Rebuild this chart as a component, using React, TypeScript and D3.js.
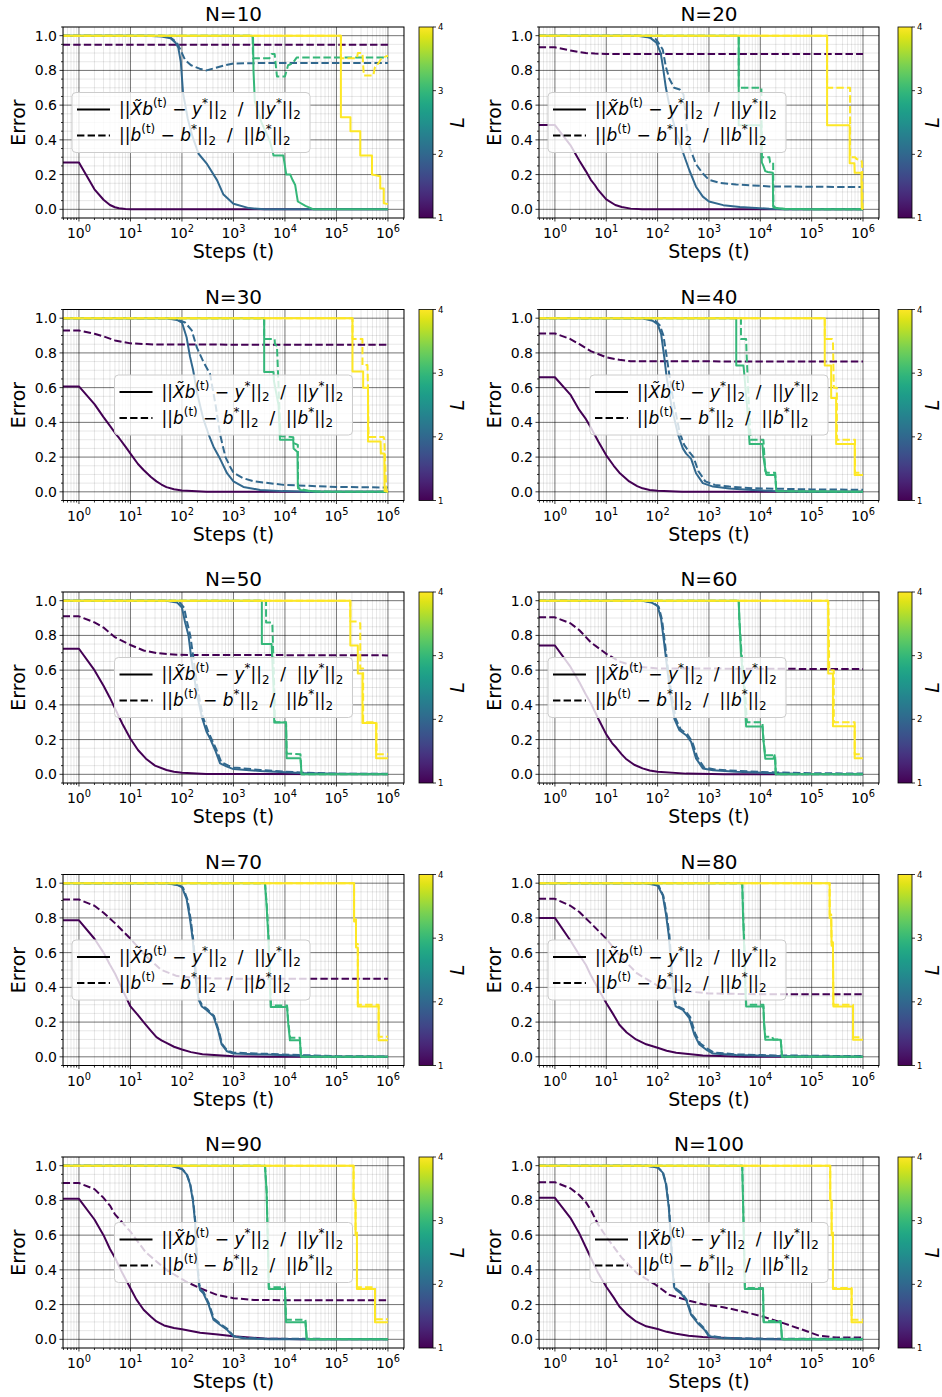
import React from 'react';
import * as d3 from 'd3';

type Pt = [number, number];

// ---------------- data ----------------
const PANEL_N = [10, 20, 30, 40, 50, 60, 70, 80, 90, 100];
const L_VALUES = [1, 2, 3, 4];
const X_TICK_EXPONENTS = [0, 1, 2, 3, 4, 5, 6];
const Y_TICKS = [0, 0.2, 0.4, 0.6, 0.8, 1.0];
const CB_TICKS = [1, 2, 3, 4];
const LEGEND_LOC = ['left', 'left', 'center', 'center', 'center', 'left', 'left', 'left', 'center', 'center'];

// solid: ||X b - y*|| / ||y*||   ; dashed: ||b - b*|| / ||b*||   (per L = 1..4)
const N10_RESIDUAL: Pt[][] = [
  [[0.3, 0.27], [1, 0.27], [2, 0.115], [3, 0.055], [4, 0.025], [5, 0.012], [6, 0.006], [8, 0.002], [10, 0], [1e6, 0]],
  [[0.3, 1], [20, 1], [40, 0.995], [60, 0.985], [75, 0.96], [85, 0.93], [95, 0.85], [105, 0.67], [130, 0.52], [160, 0.42], [210, 0.32], [300, 0.265], [480, 0.168], [640, 0.085], [1000, 0.032], [2000, 0.007], [4000, 0], [1e6, 0]],
  [[0.3, 1], [2300, 1], [2400, 0.99], [2450, 0.8], [2600, 0.62], [3500, 0.5], [5000, 0.4], [5800, 0.33], [6000, 0.31], [9300, 0.31], [10600, 0.2], [12700, 0.2], [14000, 0.17], [15800, 0.14], [17000, 0.08], [17800, 0.045], [25000, 0.02], [36000, 0], [1e6, 0]],
  [[0.3, 1], [1.22e5, 1], [1.22e5, 0.53], [1.87e5, 0.53], [1.87e5, 0.45], [2.9e5, 0.45], [2.9e5, 0.31], [4.9e5, 0.31], [4.9e5, 0.2], [7.1e5, 0.19], [7.1e5, 0.12], [8.3e5, 0.12], [8.3e5, 0.035], [1e6, 0.03]],
];
const N10_PARAM: Pt[][] = [
  [[0.3, 0.948], [1e6, 0.948]],
  [[0.3, 1], [40, 1], [60, 0.99], [80, 0.96], [100, 0.9], [115, 0.86], [150, 0.83], [220, 0.81], [300, 0.8], [450, 0.815], [700, 0.83], [1000, 0.84], [3000, 0.842], [1e6, 0.842]],
  [[0.3, 1], [2350, 1], [2400, 0.87], [5000, 0.87], [5500, 0.895], [6300, 0.895], [7000, 0.765], [10000, 0.765], [11500, 0.83], [14000, 0.84], [17000, 0.875], [1e6, 0.875]],
  [[0.3, 1], [1.22e5, 1], [1.22e5, 0.87], [2.5e5, 0.87], [2.6e5, 0.9], [3.2e5, 0.9], [3.4e5, 0.77], [5.2e5, 0.77], [5.6e5, 0.82], [6.5e5, 0.84], [7.5e5, 0.87], [1e6, 0.885]],
];

const N20_RESIDUAL: Pt[][] = [
  [[0.3, 0.485], [1, 0.485], [2, 0.37], [3, 0.28], [4, 0.22], [5, 0.17], [6, 0.14], [7, 0.11], [8, 0.09], [10, 0.057], [15, 0.025], [20, 0.013], [30, 0.004], [50, 0.001], [1e6, 0]],
  [[0.3, 1], [40, 1], [70, 0.99], [95, 0.96], [115, 0.9], [127, 0.82], [145, 0.7], [180, 0.56], [240, 0.42], [310, 0.33], [415, 0.225], [560, 0.13], [760, 0.073], [1000, 0.045], [1900, 0.024], [4000, 0.013], [15000, 0.003], [30000, 0], [1e6, 0]],
  [[0.3, 1], [3800, 1], [3800, 0.484], [10500, 0.484], [10700, 0.27], [11500, 0.25], [12500, 0.22], [14000, 0.215], [17500, 0.21], [17800, 0.02], [20000, 0.008], [30000, 0.003], [1e5, 0], [1e6, 0]],
  [[0.3, 1], [2e5, 1], [2e5, 0.484], [5.5e5, 0.484], [5.5e5, 0.265], [6.8e5, 0.265], [6.9e5, 0.21], [9.3e5, 0.21], [9.5e5, 0.005], [1e6, 0]],
];
const N20_PARAM: Pt[][] = [
  [[0.3, 0.933], [1, 0.933], [2, 0.915], [3, 0.905], [4, 0.9], [6, 0.897], [10, 0.895], [1e6, 0.895]],
  [[0.3, 1], [50, 1], [93, 0.98], [126, 0.92], [145, 0.82], [170, 0.75], [210, 0.7], [270, 0.69], [320, 0.66], [360, 0.5], [415, 0.36], [560, 0.26], [760, 0.206], [1000, 0.17], [1600, 0.153], [3400, 0.143], [15000, 0.132], [1e6, 0.128]],
  [[0.3, 1], [3800, 1], [3800, 0.7], [10500, 0.7], [10700, 0.3], [15000, 0.3], [15500, 0.27], [17800, 0.27], [18000, 0.01], [30000, 0], [1e6, 0]],
  [[0.3, 1], [2e5, 1], [2e5, 0.7], [5.6e5, 0.7], [5.6e5, 0.3], [7e5, 0.3], [7.5e5, 0.29], [9.3e5, 0.28], [9.6e5, 0.27], [9.8e5, 0.01], [1e6, 0]],
];

const N30_RESIDUAL: Pt[][] = [
  [[0.3, 0.607], [1, 0.607], [2, 0.505], [3, 0.43], [4, 0.38], [5, 0.34], [6, 0.31], [8, 0.26], [10, 0.22], [14, 0.16], [18, 0.126], [25, 0.085], [32, 0.06], [40, 0.042], [50, 0.027], [70, 0.015], [100, 0.008], [300, 0.001], [1e6, 0]],
  [[0.3, 1], [50, 1], [80, 0.99], [100, 0.975], [123, 0.89], [143, 0.78], [165, 0.7], [200, 0.56], [260, 0.42], [330, 0.33], [410, 0.26], [550, 0.19], [750, 0.107], [1000, 0.06], [1560, 0.028], [3300, 0.011], [9000, 0.004], [3e4, 0], [1e6, 0]],
  [[0.3, 1], [3950, 1], [3950, 0.69], [6000, 0.69], [6100, 0.64], [7500, 0.5], [8000, 0.3], [14500, 0.3], [14700, 0.25], [17500, 0.23], [17800, 0.03], [20000, 0.01], [40000, 0.002], [1e5, 0], [1e6, 0]],
  [[0.3, 1], [2.05e5, 1], [2.05e5, 0.693], [3.3e5, 0.693], [3.3e5, 0.6], [4.1e5, 0.6], [4.1e5, 0.29], [7.2e5, 0.29], [7.3e5, 0.22], [8.5e5, 0.22], [8.6e5, 0.005], [1e6, 0]],
];
const N30_PARAM: Pt[][] = [
  [[0.3, 0.929], [1, 0.929], [2, 0.91], [3, 0.895], [5, 0.872], [10, 0.855], [30, 0.848], [1e6, 0.847]],
  [[0.3, 1], [70, 1], [115, 0.975], [155, 0.93], [195, 0.83], [260, 0.75], [350, 0.68], [450, 0.5], [550, 0.33], [700, 0.2], [860, 0.145], [1000, 0.11], [1500, 0.08], [2500, 0.06], [9400, 0.04], [1e5, 0.028], [1e6, 0.025]],
  [[0.3, 1], [3950, 1], [3950, 0.88], [6300, 0.88], [6400, 0.85], [7000, 0.84], [8200, 0.32], [14500, 0.315], [14800, 0.28], [17800, 0.27], [18000, 0.02], [30000, 0.003], [1e5, 0], [1e6, 0]],
  [[0.3, 1], [2.05e5, 1], [2.05e5, 0.88], [3.2e5, 0.88], [3.2e5, 0.73], [4e5, 0.73], [4.1e5, 0.6], [4.2e5, 0.315], [8.3e5, 0.315], [8.5e5, 0.3], [9.3e5, 0.005], [1e6, 0]],
];

const N40_RESIDUAL: Pt[][] = [
  [[0.3, 0.66], [1, 0.66], [2, 0.56], [3, 0.47], [4, 0.42], [5, 0.37], [7, 0.29], [10, 0.21], [14, 0.15], [18, 0.11], [28, 0.06], [40, 0.033], [51, 0.02], [70, 0.011], [100, 0.006], [300, 0.001], [1e6, 0]],
  [[0.3, 1], [50, 1], [80, 0.985], [100, 0.966], [117, 0.91], [135, 0.775], [150, 0.66], [190, 0.48], [250, 0.33], [310, 0.25], [360, 0.22], [450, 0.19], [560, 0.107], [760, 0.05], [1200, 0.03], [2500, 0.019], [7000, 0.011], [20000, 0.004], [1e5, 0.001], [1e6, 0]],
  [[0.3, 1], [3400, 1], [3400, 0.727], [4700, 0.727], [4800, 0.7], [5500, 0.5], [6200, 0.275], [11000, 0.275], [11500, 0.2], [13000, 0.1], [13400, 0.097], [19500, 0.097], [20500, 0.003], [1e6, 0]],
  [[0.3, 1], [1.8e5, 1], [1.8e5, 0.727], [2.4e5, 0.727], [2.4e5, 0.54], [3e5, 0.54], [3e5, 0.275], [6.9e5, 0.275], [6.9e5, 0.097], [1e6, 0.097]],
];
const N40_PARAM: Pt[][] = [
  [[0.3, 0.912], [1, 0.912], [2, 0.88], [3, 0.85], [5, 0.81], [10, 0.775], [18, 0.76], [30, 0.752], [1e6, 0.75]],
  [[0.3, 1], [60, 1], [90, 0.985], [110, 0.96], [130, 0.9], [150, 0.78], [170, 0.67], [210, 0.5], [270, 0.34], [330, 0.27], [400, 0.235], [500, 0.2], [620, 0.12], [850, 0.06], [1300, 0.04], [2500, 0.03], [8000, 0.02], [1e5, 0.014], [1e6, 0.012]],
  [[0.3, 1], [4200, 1], [4200, 0.88], [5300, 0.88], [5400, 0.8], [6000, 0.5], [6500, 0.3], [11500, 0.3], [12500, 0.12], [13500, 0.11], [19500, 0.11], [20500, 0.003], [1e6, 0]],
  [[0.3, 1], [1.8e5, 1], [1.8e5, 0.88], [2.4e5, 0.88], [2.5e5, 0.88], [2.6e5, 0.87], [2.7e5, 0.6], [3.1e5, 0.6], [3.1e5, 0.3], [7e5, 0.3], [7e5, 0.11], [1e6, 0.11]],
];

const N50_RESIDUAL: Pt[][] = [
  [[0.3, 0.723], [1, 0.723], [2, 0.6], [3, 0.51], [4, 0.44], [5, 0.38], [7, 0.29], [10, 0.205], [14, 0.14], [20, 0.09], [30, 0.05], [50, 0.025], [70, 0.015], [100, 0.009], [300, 0.002], [1e6, 0]],
  [[0.3, 1], [50, 1], [80, 0.99], [100, 0.96], [115, 0.876], [134, 0.8], [150, 0.68], [190, 0.48], [243, 0.33], [300, 0.245], [350, 0.207], [440, 0.14], [550, 0.063], [750, 0.044], [1000, 0.03], [3300, 0.019], [20000, 0.008], [1e5, 0.003], [1e6, 0.002]],
  [[0.3, 1], [3560, 1], [3560, 0.751], [5500, 0.751], [5600, 0.7], [6000, 0.5], [6200, 0.298], [10500, 0.298], [10800, 0.092], [2e4, 0.092], [2.1e4, 0.001], [1e6, 0]],
  [[0.3, 1], [1.86e5, 1], [1.86e5, 0.742], [2.6e5, 0.742], [2.6e5, 0.58], [3.2e5, 0.58], [3.2e5, 0.296], [5.9e5, 0.296], [5.9e5, 0.092], [1e6, 0.092]],
];
const N50_PARAM: Pt[][] = [
  [[0.3, 0.91], [1, 0.91], [2, 0.875], [3, 0.845], [5, 0.79], [10, 0.745], [18, 0.713], [32, 0.698], [80, 0.688], [1e6, 0.685]],
  [[0.3, 1], [60, 1], [90, 0.99], [110, 0.96], [125, 0.88], [145, 0.8], [165, 0.68], [200, 0.5], [255, 0.33], [320, 0.25], [380, 0.2], [470, 0.14], [580, 0.07], [800, 0.05], [1000, 0.04], [3300, 0.025], [2e4, 0.01], [1e5, 0.004], [1e6, 0.003]],
  [[0.3, 1], [4300, 1], [4300, 0.875], [5500, 0.875], [5700, 0.86], [6200, 0.5], [6400, 0.3], [10500, 0.3], [10800, 0.12], [2e4, 0.115], [2.1e4, 0.001], [1e6, 0]],
  [[0.3, 1], [1.86e5, 1], [1.86e5, 0.88], [2.5e5, 0.88], [2.7e5, 0.87], [2.9e5, 0.87], [2.9e5, 0.61], [3.3e5, 0.61], [3.3e5, 0.3], [6e5, 0.3], [6e5, 0.115], [1e6, 0.115]],
];

const N60_RESIDUAL: Pt[][] = [
  [[0.3, 0.742], [1, 0.742], [2, 0.62], [3, 0.53], [4, 0.46], [5, 0.41], [7, 0.32], [10, 0.23], [13, 0.18], [16, 0.15], [20, 0.115], [24, 0.09], [35, 0.055], [51, 0.034], [70, 0.022], [100, 0.015], [360, 0.004], [2000, 0], [1e6, 0]],
  [[0.3, 1], [50, 1], [75, 0.99], [100, 0.97], [117, 0.895], [135, 0.75], [155, 0.6], [180, 0.45], [212, 0.32], [265, 0.254], [360, 0.225], [450, 0.187], [560, 0.092], [760, 0.034], [1200, 0.023], [3400, 0.015], [15000, 0.008], [6e4, 0.003], [1e6, 0.001]],
  [[0.3, 1], [3800, 1], [3900, 0.9], [4200, 0.7], [4800, 0.5], [5300, 0.275], [11000, 0.275], [11500, 0.2], [12500, 0.09], [18000, 0.09], [19000, 0.11], [19500, 0.08], [20000, 0.001], [1e6, 0]],
  [[0.3, 1], [2.1e5, 1], [2.1e5, 0.58], [2.6e5, 0.58], [2.6e5, 0.277], [6.9e5, 0.277], [6.9e5, 0.092], [1e6, 0.092]],
];
const N60_PARAM: Pt[][] = [
  [[0.3, 0.904], [1, 0.904], [2, 0.87], [3, 0.83], [5, 0.76], [10, 0.694], [18, 0.65], [38, 0.62], [100, 0.61], [1e6, 0.606]],
  [[0.3, 1], [55, 1], [80, 0.99], [105, 0.965], [122, 0.89], [140, 0.75], [160, 0.6], [190, 0.45], [225, 0.32], [280, 0.26], [380, 0.23], [470, 0.19], [590, 0.1], [800, 0.04], [1300, 0.028], [3400, 0.02], [15000, 0.012], [1e5, 0.006], [1e6, 0.005]],
  [[0.3, 1], [3800, 1], [3900, 0.9], [4300, 0.7], [5000, 0.5], [5500, 0.3], [11000, 0.3], [11500, 0.2], [12500, 0.11], [18500, 0.11], [19500, 0.1], [20000, 0.001], [1e6, 0]],
  [[0.3, 1], [2.1e5, 1], [2.15e5, 0.88], [2.2e5, 0.6], [2.7e5, 0.6], [2.7e5, 0.3], [6.9e5, 0.3], [6.9e5, 0.115], [1e6, 0.115]],
];

const N70_RESIDUAL: Pt[][] = [
  [[0.3, 0.786], [1, 0.786], [2, 0.68], [3, 0.6], [4, 0.53], [5, 0.48], [6, 0.43], [8, 0.35], [10, 0.29], [14, 0.24], [18, 0.2], [25, 0.15], [32, 0.113], [40, 0.095], [50, 0.08], [70, 0.058], [100, 0.042], [150, 0.027], [250, 0.015], [1000, 0.003], [5000, 0], [1e6, 0]],
  [[0.3, 1], [50, 1], [80, 0.99], [100, 0.977], [123, 0.91], [143, 0.796], [163, 0.67], [185, 0.45], [210, 0.33], [243, 0.29], [300, 0.27], [410, 0.233], [510, 0.147], [590, 0.071], [750, 0.032], [1000, 0.019], [4500, 0.013], [2e4, 0.006], [1e5, 0.001], [1e6, 0]],
  [[0.3, 1], [4100, 1], [4400, 0.87], [4800, 0.67], [5100, 0.4], [5300, 0.287], [11000, 0.287], [11500, 0.2], [12500, 0.095], [19500, 0.095], [20500, 0.001], [1e6, 0]],
  [[0.3, 1], [2.2e5, 1], [2.2e5, 0.78], [2.4e5, 0.78], [2.4e5, 0.63], [2.6e5, 0.63], [2.6e5, 0.29], [6.6e5, 0.29], [6.6e5, 0.095], [1e6, 0.095]],
];
const N70_PARAM: Pt[][] = [
  [[0.3, 0.906], [1, 0.906], [2, 0.87], [3, 0.83], [5, 0.77], [10, 0.68], [20, 0.58], [40, 0.5], [80, 0.465], [200, 0.453], [1000, 0.45], [1e6, 0.449]],
  [[0.3, 1], [55, 1], [85, 0.99], [105, 0.975], [128, 0.905], [148, 0.79], [168, 0.66], [190, 0.45], [215, 0.33], [250, 0.295], [310, 0.275], [420, 0.235], [520, 0.15], [600, 0.075], [760, 0.036], [1000, 0.024], [4500, 0.017], [2e4, 0.01], [1e5, 0.004], [1e6, 0.002]],
  [[0.3, 1], [4100, 1], [4450, 0.87], [4850, 0.67], [5150, 0.4], [5400, 0.295], [11000, 0.295], [11600, 0.2], [12600, 0.11], [19500, 0.11], [20500, 0.001], [1e6, 0]],
  [[0.3, 1], [2.2e5, 1], [2.2e5, 0.8], [2.4e5, 0.8], [2.4e5, 0.65], [2.6e5, 0.65], [2.6e5, 0.3], [6.6e5, 0.3], [6.6e5, 0.115], [1e6, 0.115]],
];

const N80_RESIDUAL: Pt[][] = [
  [[0.3, 0.8], [1, 0.8], [2, 0.67], [3, 0.586], [4, 0.53], [5, 0.47], [7, 0.39], [10, 0.31], [14, 0.24], [18, 0.185], [25, 0.14], [38, 0.1], [60, 0.072], [100, 0.052], [150, 0.035], [230, 0.023], [760, 0.008], [5000, 0.001], [1e6, 0]],
  [[0.3, 1], [60, 1], [100, 0.987], [126, 0.93], [145, 0.824], [165, 0.7], [185, 0.5], [210, 0.33], [225, 0.29], [310, 0.27], [415, 0.223], [520, 0.128], [650, 0.071], [880, 0.042], [1200, 0.019], [3400, 0.01], [2e4, 0.004], [1e6, 0]],
  [[0.3, 1], [4450, 1], [4600, 0.815], [4900, 0.6], [5100, 0.4], [5300, 0.29], [11500, 0.29], [11800, 0.2], [12500, 0.099], [25000, 0.099], [26500, 0.001], [1e6, 0]],
  [[0.3, 1], [2.24e5, 1], [2.24e5, 0.8], [2.4e5, 0.8], [2.45e5, 0.64], [2.6e5, 0.64], [2.65e5, 0.29], [6.4e5, 0.29], [6.4e5, 0.099], [1e6, 0.099]],
];
const N80_PARAM: Pt[][] = [
  [[0.3, 0.91], [1, 0.91], [2, 0.87], [3, 0.834], [5, 0.77], [10, 0.68], [20, 0.57], [40, 0.48], [100, 0.41], [300, 0.38], [1000, 0.365], [1e4, 0.36], [1e6, 0.36]],
  [[0.3, 1], [65, 1], [105, 0.985], [130, 0.925], [150, 0.82], [170, 0.7], [190, 0.5], [215, 0.33], [235, 0.295], [320, 0.275], [430, 0.23], [540, 0.135], [670, 0.078], [900, 0.05], [1250, 0.025], [3400, 0.014], [2e4, 0.008], [1e6, 0.004]],
  [[0.3, 1], [4450, 1], [4650, 0.815], [4950, 0.6], [5150, 0.4], [5350, 0.3], [11500, 0.3], [11800, 0.2], [12500, 0.115], [17000, 0.115], [18000, 0.1], [25000, 0.1], [26500, 0.001], [1e6, 0]],
  [[0.3, 1], [2.24e5, 1], [2.25e5, 0.82], [2.4e5, 0.82], [2.45e5, 0.66], [2.6e5, 0.66], [2.65e5, 0.3], [6.4e5, 0.3], [6.4e5, 0.113], [1e6, 0.113]],
];

const N90_RESIDUAL: Pt[][] = [
  [[0.3, 0.809], [1, 0.809], [2, 0.69], [3, 0.6], [4, 0.52], [5, 0.47], [7, 0.38], [10, 0.294], [13, 0.23], [18, 0.17], [25, 0.13], [32, 0.103], [45, 0.08], [70, 0.065], [100, 0.058], [225, 0.038], [500, 0.028], [1000, 0.017], [4000, 0.005], [2e4, 0], [1e6, 0]],
  [[0.3, 1], [60, 1], [100, 0.98], [123, 0.95], [143, 0.895], [163, 0.8], [180, 0.675], [195, 0.45], [215, 0.31], [225, 0.284], [260, 0.265], [330, 0.2], [410, 0.113], [550, 0.084], [750, 0.055], [1000, 0.017], [1560, 0.006], [5000, 0.001], [1e6, 0]],
  [[0.3, 1], [4100, 1], [4400, 0.85], [4700, 0.5], [4850, 0.29], [10000, 0.29], [10500, 0.099], [25000, 0.099], [26500, 0.001], [1e6, 0]],
  [[0.3, 1], [2.15e5, 1], [2.15e5, 0.8], [2.35e5, 0.8], [2.35e5, 0.6], [2.5e5, 0.6], [2.5e5, 0.29], [5.6e5, 0.29], [5.6e5, 0.099], [1e6, 0.099]],
];
const N90_PARAM: Pt[][] = [
  [[0.3, 0.9], [1, 0.9], [2, 0.865], [3, 0.815], [4, 0.77], [5, 0.72], [10, 0.62], [20, 0.5], [50, 0.4], [125, 0.33], [225, 0.294], [480, 0.256], [1000, 0.237], [2500, 0.227], [1e4, 0.225], [1e6, 0.225]],
  [[0.3, 1], [62, 1], [102, 0.98], [125, 0.95], [145, 0.895], [165, 0.8], [182, 0.675], [198, 0.45], [218, 0.315], [230, 0.29], [265, 0.27], [335, 0.205], [415, 0.12], [560, 0.088], [760, 0.06], [1000, 0.02], [1600, 0.008], [5000, 0.003], [1e6, 0.002]],
  [[0.3, 1], [4100, 1], [4420, 0.85], [4720, 0.5], [4870, 0.3], [10000, 0.3], [10500, 0.113], [25000, 0.113], [26500, 0.001], [1e6, 0]],
  [[0.3, 1], [2.15e5, 1], [2.15e5, 0.81], [2.35e5, 0.81], [2.35e5, 0.62], [2.5e5, 0.62], [2.5e5, 0.3], [5.6e5, 0.3], [5.6e5, 0.115], [1e6, 0.115]],
];

const N100_RESIDUAL: Pt[][] = [
  [[0.3, 0.815], [1, 0.815], [2, 0.7], [3, 0.609], [4, 0.53], [5, 0.47], [7, 0.38], [10, 0.303], [14, 0.24], [18, 0.189], [25, 0.145], [38, 0.103], [60, 0.075], [100, 0.059], [150, 0.043], [230, 0.032], [400, 0.02], [760, 0.013], [4000, 0.004], [3e4, 0], [1e6, 0]],
  [[0.3, 1], [60, 1], [100, 0.99], [126, 0.96], [145, 0.895], [165, 0.76], [180, 0.6], [195, 0.4], [210, 0.3], [230, 0.284], [285, 0.265], [360, 0.227], [450, 0.141], [600, 0.094], [820, 0.055], [1000, 0.017], [1900, 0.006], [1e4, 0.001], [1e6, 0]],
  [[0.3, 1], [4450, 1], [4600, 0.8], [4850, 0.5], [5000, 0.29], [11300, 0.29], [11600, 0.099], [25000, 0.099], [26500, 0.001], [1e6, 0]],
  [[0.3, 1], [2.3e5, 1], [2.3e5, 0.8], [2.45e5, 0.8], [2.45e5, 0.6], [2.6e5, 0.6], [2.6e5, 0.29], [6e5, 0.29], [6e5, 0.099], [1e6, 0.099]],
];
const N100_PARAM: Pt[][] = [
  [[0.3, 0.905], [1, 0.905], [2, 0.87], [3, 0.83], [4, 0.79], [5, 0.745], [7, 0.66], [10, 0.59], [20, 0.47], [40, 0.38], [93, 0.313], [170, 0.256], [360, 0.227], [760, 0.202], [1900, 0.185], [4600, 0.16], [1.1e4, 0.132], [2.8e4, 0.093], [6.7e4, 0.055], [1.4e5, 0.021], [3e5, 0.01], [1e6, 0.01]],
  [[0.3, 1], [62, 1], [102, 0.99], [128, 0.96], [147, 0.895], [167, 0.76], [182, 0.6], [197, 0.4], [213, 0.3], [235, 0.29], [290, 0.27], [365, 0.23], [460, 0.145], [610, 0.1], [830, 0.06], [1000, 0.022], [1900, 0.009], [1e4, 0.004], [1e6, 0.003]],
  [[0.3, 1], [4450, 1], [4620, 0.8], [4870, 0.5], [5020, 0.295], [11300, 0.295], [11600, 0.105], [25000, 0.105], [26500, 0.001], [1e6, 0]],
  [[0.3, 1], [2.3e5, 1], [2.3e5, 0.81], [2.45e5, 0.81], [2.45e5, 0.62], [2.6e5, 0.62], [2.6e5, 0.295], [6e5, 0.295], [6e5, 0.113], [1e6, 0.113]],
];

const RESIDUAL = [N10_RESIDUAL, N20_RESIDUAL, N30_RESIDUAL, N40_RESIDUAL, N50_RESIDUAL, N60_RESIDUAL, N70_RESIDUAL, N80_RESIDUAL, N90_RESIDUAL, N100_RESIDUAL];
const PARAM = [N10_PARAM, N20_PARAM, N30_PARAM, N40_PARAM, N50_PARAM, N60_PARAM, N70_PARAM, N80_PARAM, N90_PARAM, N100_PARAM];

// ---------------- layout ----------------
const W = 942;
const H = 1397;
const PLOT_LEFT = [63, 539];
const PLOT_RIGHT = [404, 879];
const CB_LEFT = [419, 898];
const CB_LABEL_OFFSET = [31, 27];
const CB_W = 14;
const FIRST_TOP = 27;
const ROW_PITCH = 282.5;
const PLOT_H = 191;
const X_DOMAIN: [number, number] = [0.49, 2.05e6];
const Y_DOMAIN: [number, number] = [-0.05, 1.05];
const FONT = "'DejaVu Sans', sans-serif";
const LW = 2;
const DASH = '7.4,3.2';
const NB = '\u00A0';

const colorOf = (L: number) => d3.interpolateViridis((L - 1) / 3);

function LegendLabel({ x, y, kind, fs }: { x: number; y: number; kind: 'res' | 'par'; fs: number }) {
  const s = fs * 0.7;
  const up = fs * 0.45;
  const dn = fs * 0.22;
  const v = kind === 'res' ? 'y' : 'b';
  return (
    <text x={x} y={y} fontSize={fs} fontFamily={FONT}>
      <tspan>||</tspan>
      {kind === 'res' ? <tspan fontStyle="italic">{'X\u0303'}</tspan> : null}
      <tspan fontStyle="italic">b</tspan>
      <tspan dy={-up} fontSize={s}>(t)</tspan>
      <tspan dy={up}>{NB + '\u2212' + NB}</tspan>
      <tspan fontStyle="italic">{v}</tspan>
      <tspan dy={-up} fontSize={s}>*</tspan>
      <tspan dy={up}>||</tspan>
      <tspan dy={dn} fontSize={s}>2</tspan>
      <tspan dy={-dn}>{NB + NB + '/' + NB + NB}</tspan>
      <tspan>||</tspan>
      <tspan fontStyle="italic">{v}</tspan>
      <tspan dy={-up} fontSize={s}>*</tspan>
      <tspan dy={up}>||</tspan>
      <tspan dy={dn} fontSize={s}>2</tspan>
    </text>
  );
}

function Panel({ index }: { index: number }) {
  const row = Math.floor(index / 2);
  const col = index % 2;
  const left = PLOT_LEFT[col];
  const right = PLOT_RIGHT[col];
  const top = FIRST_TOP + ROW_PITCH * row;
  const bottom = top + PLOT_H;
  const x = d3.scaleLog().domain(X_DOMAIN).range([left, right]);
  const y = d3.scaleLinear().domain(Y_DOMAIN).range([bottom, top]);
  const line = d3.line<Pt>().x((d) => x(d[0])).y((d) => y(d[1]));
  const clipId = `clip-${index}`;

  const xMajor = X_TICK_EXPONENTS.map((e) => Math.pow(10, e));
  const xMinor: number[] = [];
  for (let e = -1; e <= 6; e++) {
    for (let m = 2; m <= 9; m++) {
      const v = m * Math.pow(10, e);
      if (v >= X_DOMAIN[0] && v <= X_DOMAIN[1]) xMinor.push(v);
    }
  }
  const yMinor = d3.range(-1, 22).map((k) => k * 0.05).filter((v) => v >= -0.0501 && v <= 1.0501 && Math.abs(v / 0.2 - Math.round(v / 0.2)) > 1e-6);

  const cbX = CB_LEFT[col];
  const cbScale = d3.scaleLinear().domain([1, 4]).range([bottom, top]);

  const legW = 238;
  const legH = 60;
  const legX = LEGEND_LOC[index] === 'center' ? (left + right) / 2 - legW / 2 : left + 9;
  const legY = (top + bottom) / 2 - legH / 2;

  const tickFs = 14;

  return (
    <g>
      <defs>
        <clipPath id={clipId}>
          <rect x={left} y={top} width={right - left} height={bottom - top} />
        </clipPath>
      </defs>
      <g stroke="#000" strokeOpacity={0.12} strokeWidth={0.8}>
        {xMinor.map((v) => (
          <line key={'xm' + v} x1={x(v)} x2={x(v)} y1={top} y2={bottom} />
        ))}
        {yMinor.map((v) => (
          <line key={'ym' + v} x1={left} x2={right} y1={y(v)} y2={y(v)} />
        ))}
      </g>
      <g stroke="#000" strokeOpacity={0.55} strokeWidth={1}>
        {xMajor.map((v) => (
          <line key={'xM' + v} x1={x(v)} x2={x(v)} y1={top} y2={bottom} />
        ))}
        {Y_TICKS.map((v) => (
          <line key={'yM' + v} x1={left} x2={right} y1={y(v)} y2={y(v)} />
        ))}
      </g>
      <g clipPath={`url(#${clipId})`} fill="none" strokeLinejoin="round">
        {L_VALUES.map((L, i) => (
          <g key={'L' + L}>
            <path d={line(RESIDUAL[index][i]) || ''} stroke={colorOf(L)} strokeWidth={LW} />
            <path d={line(PARAM[index][i]) || ''} stroke={colorOf(L)} strokeWidth={LW} strokeDasharray={DASH} />
          </g>
        ))}
      </g>
      <rect x={left} y={top} width={right - left} height={bottom - top} fill="none" stroke="#000" strokeWidth={1} />
      <g stroke="#000" strokeWidth={0.8}>
        {xMajor.map((v) => (
          <line key={'xt' + v} x1={x(v)} x2={x(v)} y1={bottom} y2={bottom + 3.5} />
        ))}
        {xMinor.map((v) => (
          <line key={'xmt' + v} x1={x(v)} x2={x(v)} y1={bottom} y2={bottom + 2} />
        ))}
        {Y_TICKS.map((v) => (
          <line key={'yt' + v} x1={left - 3.5} x2={left} y1={y(v)} y2={y(v)} />
        ))}
        {yMinor.map((v) => (
          <line key={'ymt' + v} x1={left - 2} x2={left} y1={y(v)} y2={y(v)} />
        ))}
      </g>
      <g fontFamily={FONT} fontSize={tickFs} fill="#000">
        {X_TICK_EXPONENTS.map((e) => (
          <text key={'xl' + e} x={x(Math.pow(10, e))} y={bottom + 20} textAnchor="middle">
            <tspan>10</tspan>
            <tspan dy={-6} fontSize={tickFs * 0.7}>{String(e)}</tspan>
          </text>
        ))}
        {Y_TICKS.map((v) => (
          <text key={'yl' + v} x={left - 6} y={y(v)} dy="0.36em" textAnchor="end">
            {v.toFixed(1)}
          </text>
        ))}
      </g>
      <text x={(left + right) / 2} y={top - 6} textAnchor="middle" fontFamily={FONT} fontSize={20}>
        {'N=' + PANEL_N[index]}
      </text>
      <text x={(left + right) / 2} y={bottom + 40} textAnchor="middle" fontFamily={FONT} fontSize={19}>
        Steps (t)
      </text>
      <text transform={`translate(${left - 38},${(top + bottom) / 2}) rotate(-90)`} textAnchor="middle" fontFamily={FONT} fontSize={19}>
        Error
      </text>
      <g>
        <rect x={legX} y={legY} width={legW} height={legH} rx={4} ry={4} fill="#fff" fillOpacity={0.8} stroke="#ccc" strokeWidth={1} />
        <line x1={legX + 5} x2={legX + 38} y1={legY + 17} y2={legY + 17} stroke="#000" strokeWidth={LW} />
        <line x1={legX + 5} x2={legX + 38} y1={legY + 43} y2={legY + 43} stroke="#000" strokeWidth={LW} strokeDasharray={DASH} />
        <LegendLabel x={legX + 47} y={legY + 22.5} kind="res" fs={17} />
        <LegendLabel x={legX + 47} y={legY + 48.5} kind="par" fs={17} />
      </g>
      <rect x={cbX} y={top} width={CB_W} height={bottom - top} fill="url(#viridis-grad)" />
      <rect x={cbX} y={top} width={CB_W} height={bottom - top} fill="none" stroke="#000" strokeWidth={0.8} />
      <g stroke="#000" strokeWidth={0.8}>
        {CB_TICKS.map((v) => (
          <line key={'cb' + v} x1={cbX + CB_W} x2={cbX + CB_W + 3} y1={cbScale(v)} y2={cbScale(v)} />
        ))}
      </g>
      <g fontFamily={FONT} fontSize={8.5}>
        {CB_TICKS.map((v) => (
          <text key={'cbl' + v} x={cbX + CB_W + 5} y={cbScale(v)} dy="0.36em">
            {String(v)}
          </text>
        ))}
      </g>
      <text transform={`translate(${cbX + CB_W + CB_LABEL_OFFSET[col]},${(top + bottom) / 2}) rotate(-90)`} textAnchor="middle" fontFamily={FONT} fontSize={19} fontStyle="italic">
        L
      </text>
    </g>
  );
}

export default function App() {
  const stops = d3.range(0, 21).map((k) => k / 20);
  return (
    <svg width={W} height={H} viewBox={`0 0 ${W} ${H}`} style={{ position: 'absolute', left: 0, top: 0, background: '#fff' }}>
      <defs>
        <linearGradient id="viridis-grad" x1="0" y1="1" x2="0" y2="0">
          {stops.map((t) => (
            <stop key={t} offset={t} stopColor={d3.interpolateViridis(t)} />
          ))}
        </linearGradient>
      </defs>
      <rect x={0} y={0} width={W} height={H} fill="#fff" />
      {PANEL_N.map((n, i) => (
        <Panel key={n} index={i} />
      ))}
    </svg>
  );
}
